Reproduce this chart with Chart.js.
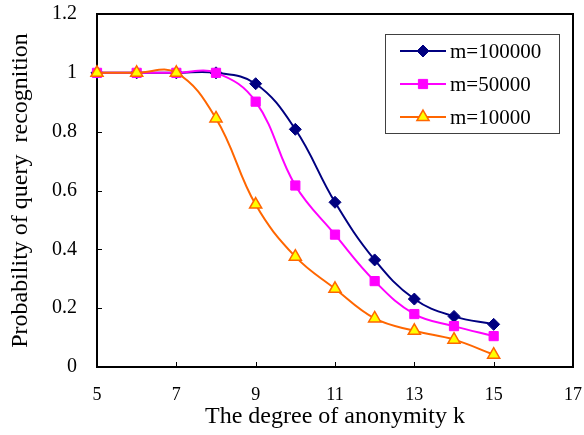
<!DOCTYPE html>
<html>
<head>
<meta charset="utf-8">
<script src="https://cdn.jsdelivr.net/npm/chart.js@4"></script>
<style>
html,body{margin:0;padding:0;background:#fff;}
</style>
</head>
<body>
<canvas id="c" width="584" height="435"></canvas>
<script>
const kValues = [5, 6, 7, 8, 9, 10, 11, 12, 13, 14, 15];
const m100000 = [1, 1, 1, 1, 0.963, 0.808, 0.56, 0.364, 0.231, 0.172, 0.145];
const m50000  = [1, 1, 1, 1, 0.902, 0.617, 0.45, 0.292, 0.18, 0.139, 0.105];
const m10000  = [1, 1, 1, 0.845, 0.552, 0.375, 0.266, 0.165, 0.123, 0.093, 0.042];
const seriesNames = ['m=100000', 'm=50000', 'm=10000'];
const xTicks = [5, 7, 9, 11, 13, 15, 17];
const yTicks = [0, 0.2, 0.4, 0.6, 0.8, 1, 1.2];

const SERIF = '"Liberation Serif", "Times New Roman", serif';

function pts(vals){ return kValues.map((k,i)=>({x:k, y:vals[i]})); }

function drawFrame(chart){
  const ctx = chart.ctx, a = chart.chartArea, scales = chart.scales;
  ctx.save();
  ctx.strokeStyle = '#000000';
  ctx.lineWidth = 1;
  ctx.beginPath();
  xTicks.forEach(v=>{
    const x = Math.round(scales.x.getPixelForValue(v))+0.5;
    ctx.moveTo(x, a.bottom); ctx.lineTo(x, a.bottom-5);
  });
  yTicks.forEach(v=>{
    const y = Math.round(scales.y.getPixelForValue(v))+0.5;
    ctx.moveTo(a.left, y); ctx.lineTo(a.left+5, y);
  });
  ctx.stroke();
  ctx.lineWidth = 2;
  ctx.beginPath();
  ctx.rect(a.left, a.top, a.right-a.left, a.bottom-a.top);
  ctx.stroke();
  ctx.restore();
}

function legendMarker(ctx, ds, x, y){
  ctx.save();
  ctx.fillStyle = ds.pointBackgroundColor;
  ctx.strokeStyle = ds.pointBorderColor;
  ctx.lineWidth = ds.pointBorderWidth;
  Chart.helpers.drawPoint(ctx, {pointStyle: ds.pointStyle, rotation:0, borderWidth: ds.pointBorderWidth, radius: ds.pointRadius}, x, y);
  ctx.restore();
}

const framePlugin = {
  id: 'framePlugin',
  beforeDraw(chart){ drawFrame(chart); },
  afterDraw(chart){
    const ctx = chart.ctx;
    const bx = 385, by = 34, bw = 174, bh = 99;
    ctx.save();
    ctx.fillStyle = '#fff';
    ctx.fillRect(bx, by, bw, bh);
    ctx.strokeStyle = '#404040';
    ctx.lineWidth = 1;
    ctx.strokeRect(bx+0.5, by+0.5, bw, bh);
    seriesNames.forEach((name,row)=>{
      const ds = chart.data.datasets.find(d=>d.label===name);
      const y = by + 17 + row*33;
      ctx.strokeStyle = ds.borderColor;
      ctx.lineWidth = 2;
      ctx.beginPath();
      ctx.moveTo(400, y); ctx.lineTo(446, y);
      ctx.stroke();
      legendMarker(ctx, ds, 423, y);
      ctx.fillStyle = '#000';
      ctx.font = '21px ' + SERIF;
      ctx.textBaseline = 'middle';
      ctx.textAlign = 'left';
      ctx.fillText(ds.label, 450, y+1);
    });
    ctx.restore();
  }
};

new Chart(document.getElementById('c'), {
  type: 'line',
  data: {
    datasets: [
      {
        label: seriesNames[0], data: pts(m100000), order: 2,
        borderColor: '#000080', borderWidth: 2,
        pointStyle: 'rectRot', pointRadius: 6, pointBorderWidth: 1,
        pointBackgroundColor: '#000080', pointBorderColor: '#000080',
        tension: 0.4, clip: false
      },
      {
        label: seriesNames[1], data: pts(m50000), order: 1,
        borderColor: '#FF00FF', borderWidth: 2,
        pointStyle: 'rect', pointRadius: 6.5, pointBorderWidth: 1,
        pointBackgroundColor: '#FF00FF', pointBorderColor: '#FF00FF',
        tension: 0.4, clip: false
      },
      {
        label: seriesNames[2], data: pts(m10000), order: 0,
        borderColor: '#FF6600', borderWidth: 2,
        pointStyle: 'triangle', pointRadius: 7, pointBorderWidth: 1.5,
        pointBackgroundColor: '#FFFF00', pointBorderColor: '#FF6600',
        tension: 0.4, clip: false
      }
    ]
  },
  options: {
    responsive: false,
    animation: false,
    devicePixelRatio: 1,
    layout: { padding: { left: 0, right: 11, top: 14, bottom: 0 } },
    plugins: { legend: { display: false }, tooltip: { enabled: false } },
    scales: {
      x: {
        type: 'linear', min: 5, max: 17,
        afterBuildTicks: s => { s.ticks = xTicks.map(v=>({value:v})); },
        afterFit: s => { s.height = 68; s.paddingLeft = 0; s.paddingRight = 0; },
        grid: { display: false, drawTicks: false },
        border: { display: false },
        ticks: { color: '#000', padding: 17, font: { family: SERIF, size: 18 }, maxRotation: 0, autoSkip: false },
        title: { display: true, text: 'The degree of anonymity k', color: '#000',
                 font: { family: SERIF, size: 24 }, padding: { top: 0, bottom: 4 } }
      },
      y: {
        min: 0, max: 1.2,
        afterBuildTicks: s => { s.ticks = yTicks.map(v=>({value:v})); },
        afterFit: s => { s.width = 97; s.paddingTop = 0; s.paddingBottom = 0; },
        grid: { display: false, drawTicks: false },
        border: { display: false },
        ticks: { color: '#000', padding: 20, font: { family: SERIF, size: 20 },
                 callback: v => String(Math.round(v*10)/10) },
        title: { display: true, text: 'Probability of query  recognition', color: '#000',
                 font: { family: SERIF, size: 24 }, padding: { top: 6, bottom: 0 } }
      }
    }
  },
  plugins: [framePlugin]
});
</script>
</body>
</html>
